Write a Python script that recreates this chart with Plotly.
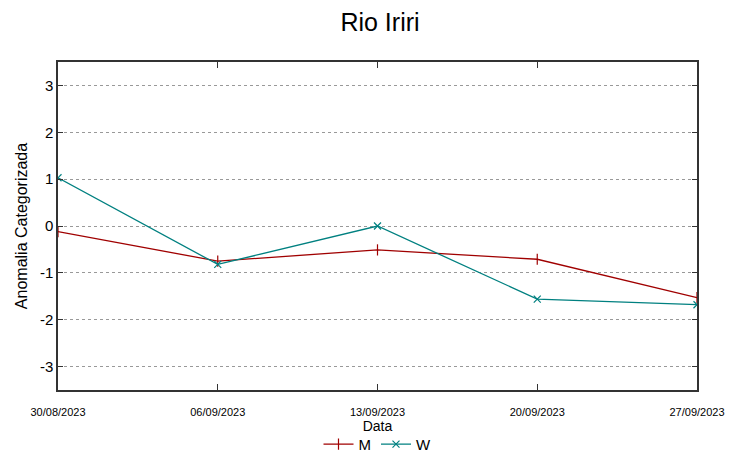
import plotly.graph_objects as go

dates = ["30/08/2023", "06/09/2023", "13/09/2023", "20/09/2023", "27/09/2023"]
m_vals = [-0.12, -0.75, -0.51, -0.71, -1.53]
w_vals = [1.03, -0.82, 0.0, -1.56, -1.68]
y_ticks = [-3, -2, -1, 0, 1, 2, 3]
y_tick_text = ["-3", "-2", "-1", "0", "1", "2", "3"]

FONT = "Liberation Sans"

fig = go.Figure()
fig.add_trace(go.Scatter(
    x=dates, y=m_vals, name="M", mode="lines+markers",
    line=dict(color="#a00000", width=1.3),
    marker=dict(symbol="line-ns", size=8, line=dict(color="#a00000", width=1.2)),
))
fig.add_trace(go.Scatter(
    x=dates, y=w_vals, name="W", mode="lines+markers",
    line=dict(color="#008080", width=1.3),
    marker=dict(symbol="x-thin", size=7, line=dict(color="#008080", width=1.2)),
))

# page body has an 8px margin, so the figure is sized/positioned to compensate
fig.update_layout(
    width=744, height=451,
    margin=dict(l=50, r=55, t=54, b=69, autoexpand=False),
    paper_bgcolor="white", plot_bgcolor="white",
    title=dict(text="Rio Iriri", x=0.5, xanchor="center", y=0.969, yanchor="middle",
               font=dict(family=FONT, size=25, color="black")),
    font=dict(family=FONT, color="black"),
    showlegend=True,
    legend=dict(orientation="h", x=0.5, xanchor="center", y=-0.166, yanchor="middle",
                font=dict(family=FONT, size=15, color="black"),
                bgcolor="rgba(0,0,0,0)", itemwidth=30, tracegroupgap=0),
)
fig.update_xaxes(
    type="category", range=[0, 4], automargin=False,
    showgrid=False, zeroline=False,
    showline=True, linecolor="#333333", linewidth=1.5, mirror="ticks",
    ticks="inside", ticklen=6, tickcolor="#333333",
    ticklabelstandoff=11,
    tickfont=dict(family=FONT, size=11, color="black"),
    title=dict(text="Data", standoff=0, font=dict(family=FONT, size=14, color="black")),
)
fig.update_yaxes(
    range=[-3.5, 3.5], tickvals=y_ticks, ticktext=y_tick_text, automargin=False,
    showgrid=True, gridcolor="#999999", griddash="dot", gridwidth=1,
    zeroline=False,
    showline=True, linecolor="#333333", linewidth=1.5, mirror="ticks",
    ticks="inside", ticklen=5, tickcolor="#333333",
    tickfont=dict(family=FONT, size=15, color="black"),
    title=dict(text="Anomalia Categorizada", standoff=8,
               font=dict(family=FONT, size=16, color="black")),
)

fig.write_html("out.html")
